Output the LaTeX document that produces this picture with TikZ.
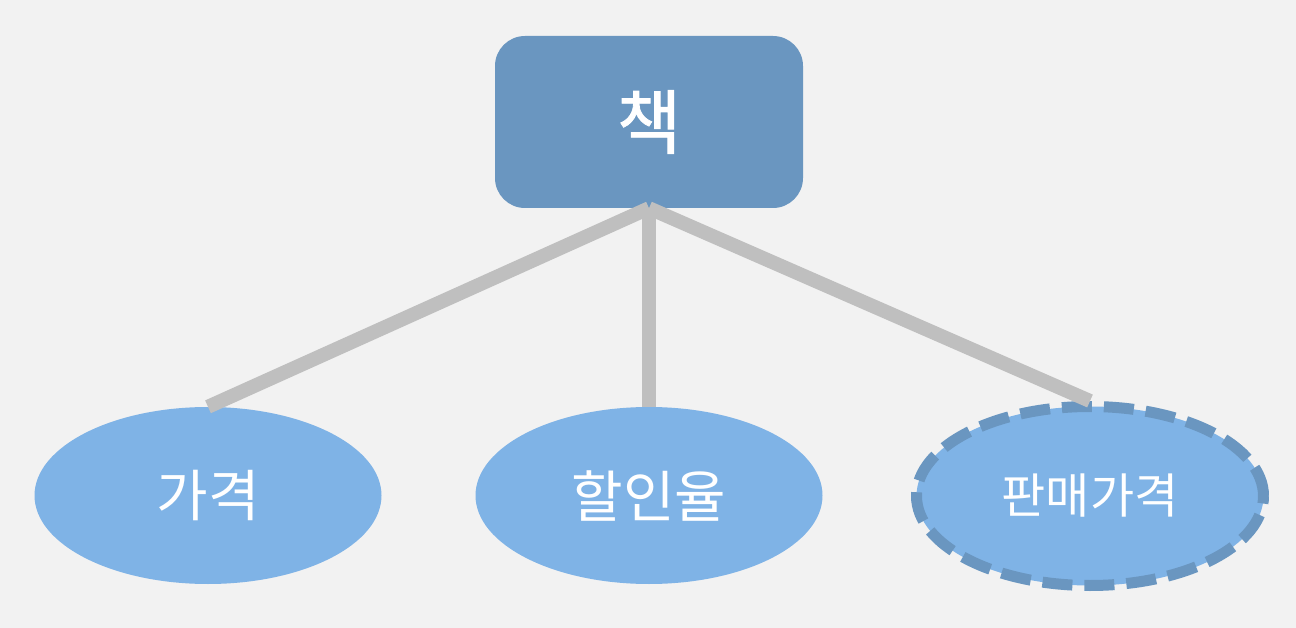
\documentclass[tikz,border=0pt]{standalone}
\usepackage{fontspec}
\newfontfamily\kr{Noto Sans CJK KR}
\newfontfamily\krb[FakeBold=1.2]{Noto Sans CJK KR}
\usetikzlibrary{shapes.geometric}
\definecolor{bg}{HTML}{F2F2F2}
\definecolor{boxblue}{HTML}{6A96C0}
\definecolor{ellblue}{HTML}{7FB3E6}
\definecolor{conn}{HTML}{BFBFBF}
\tikzset{
  entity/.style={rectangle, rounded corners=30pt, fill=boxblue, minimum width=308pt, minimum height=172pt, inner sep=0pt, text=white, font=\krb\fontsize{70}{76}\selectfont},
  attr/.style={ellipse, fill=ellblue, minimum width=347pt, minimum height=177pt, inner sep=0pt, text=white, font=\kr\fontsize{56}{64}\selectfont},
  derived/.style={attr, draw=boxblue, line width=11pt, dash pattern=on 30pt off 12pt, minimum width=347pt, minimum height=179pt, font=\kr\fontsize{48}{56}\selectfont},
  link/.style={draw=conn, line width=14pt}
}
\begin{document}
\begin{tikzpicture}[x=1pt,y=-1pt]
\fill[bg] (0,0) rectangle (1296,628);
\useasboundingbox (0,0) rectangle (1296,628);
\node[entity] (book) at (649,122) {책};
\node[attr] (price) at (208,495.5) {가격};
\node[attr] (rate) at (649,495.5) {할인율};
\node[derived] (sale) at (1090,496) {판매가격};
\draw[link] (book.south) -- (price.north);
\draw[link] (book.south) -- (rate.north);
\draw[link] (book.south) -- (sale.north);
\end{tikzpicture}
\end{document}
